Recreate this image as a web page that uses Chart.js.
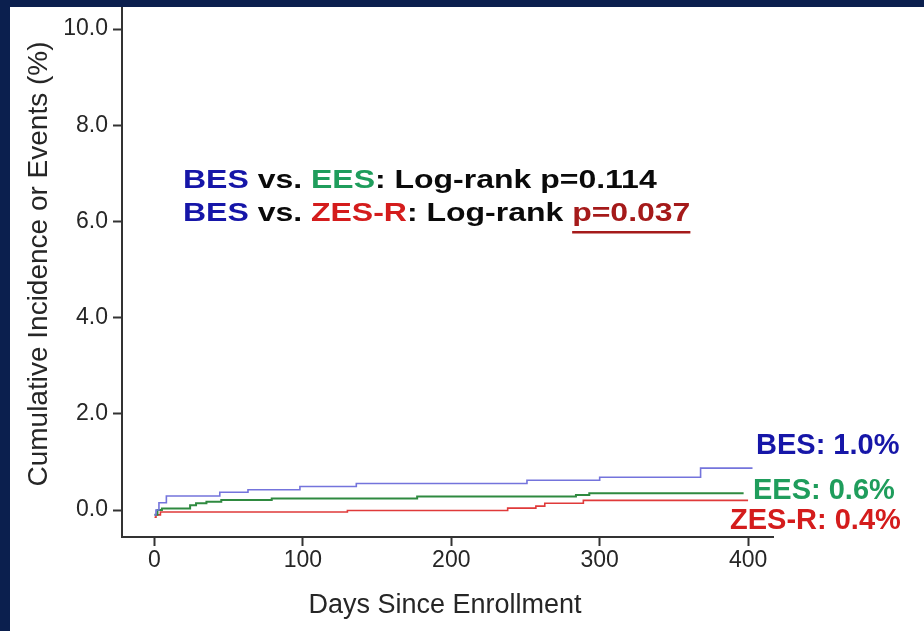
<!DOCTYPE html>
<html>
<head>
<meta charset="utf-8">
<script src="https://cdn.jsdelivr.net/npm/chart.js@4.4.1/dist/chart.umd.min.js"></script>
<style>
  html, body { margin: 0; padding: 0; width: 924px; height: 631px; overflow: hidden; background: #0b1f4e; }
  #panel { position: absolute; left: 10px; top: 7px; width: 914px; height: 624px; background: #ffffff; }
  canvas { display: block; }
</style>
</head>
<body>
<div id="panel"><canvas id="km" width="914" height="624"></canvas></div>
<script>
// Axis ticks
const yTicks = [0, 2, 4, 6, 8, 10];
const xTicks = [0, 100, 200, 300, 400];

// Cumulative incidence (%) by days since enrollment, step points per stent group
const besDays  = [0, 1, 3, 8, 44, 63, 98, 136, 251, 300, 368, 403];
const besRates = [-0.10, 0.00, 0.15, 0.29, 0.37, 0.42, 0.49, 0.55, 0.62, 0.68, 0.87, 0.87];

const eesDays  = [0, 2, 5, 24, 28, 35, 45, 79, 177, 284, 293, 397];
const eesRates = [-0.10, 0.00, 0.03, 0.10, 0.14, 0.17, 0.21, 0.24, 0.28, 0.31, 0.35, 0.35];

const zesDays  = [0, 1, 4, 130, 238, 257, 263, 289, 400];
const zesRates = [-0.15, -0.10, -0.04, -0.01, 0.04, 0.08, 0.14, 0.20, 0.20];

// Group names, colours and the 1-year rates quoted beside the curves
const groups     = ['BES', 'EES', 'ZES-R'];
const lineColors = ['#7474dc', '#2f8a40', '#e03a3a'];
const textColors = ['#1616a8', '#1f9d5c', '#d41c1c'];
const oneYear    = ['1.0%', '0.6%', '0.4%'];

// Log-rank comparison lines
const compareLines = [
  [['BES', 0], [' vs. ', -1], ['EES', 1], [': Log-rank p=0.114', -1]],
  [['BES', 0], [' vs. ', -1], ['ZES-R', 2], [': Log-rank ', -1], ['p=0.037', 3]]
];

const FONT = '"Liberation Sans", Arial, Helvetica, sans-serif';
const INK = '#262626';
const toPoints = (days, rates) => days.map((d, i) => ({ x: d, y: rates[i] }));

const notesPlugin = {
  id: 'notes',
  afterDraw(chart) {
    const ctx = chart.ctx;
    ctx.save();

    // Log-rank comparison text (wide bold face)
    const sx = 1.23;
    const baselines = [181, 214];
    compareLines.forEach((line, li) => {
      ctx.save();
      ctx.translate(173, baselines[li]);
      ctx.scale(sx, 1);
      ctx.font = 'bold 26px ' + FONT;
      ctx.textBaseline = 'alphabetic';
      ctx.textAlign = 'left';
      let x = 0;
      line.forEach(([txt, ci]) => {
        ctx.fillStyle = ci === -1 ? '#0a0a0a' : (ci === 3 ? '#a51a1a' : textColors[ci]);
        ctx.fillText(txt, x, 0);
        const w = ctx.measureText(txt).width;
        if (ci === 3) ctx.fillRect(x, 10, w, 2.5);
        x += w;
      });
      ctx.restore();
    });

    // End-of-curve rate labels
    ctx.font = 'bold 29px ' + FONT;
    ctx.textAlign = 'left';
    ctx.textBaseline = 'alphabetic';
    const endPos = [[746, 447], [743, 492], [720, 522]];
    groups.forEach((g, i) => {
      ctx.fillStyle = textColors[i];
      ctx.fillText(g + ': ' + oneYear[i], endPos[i][0], endPos[i][1]);
    });

    // Axis titles
    ctx.fillStyle = INK;
    ctx.font = '28px ' + FONT;
    ctx.save();
    ctx.translate(37, 257);
    ctx.rotate(-Math.PI / 2);
    ctx.textAlign = 'center';
    ctx.fillText('Cumulative Incidence or Events (%)', 0, 0);
    ctx.restore();

    ctx.font = '27px ' + FONT;
    ctx.textAlign = 'center';
    ctx.fillText('Days Since Enrollment', 435, 606);

    ctx.restore();
  }
};

const series = [
  toPoints(besDays, besRates),
  toPoints(eesDays, eesRates),
  toPoints(zesDays, zesRates)
];

const noPad = s => { s.paddingTop = 0; s.paddingBottom = 0; s.paddingLeft = 0; s.paddingRight = 0; };

new Chart(document.getElementById('km'), {
  type: 'line',
  data: {
    datasets: groups.map((g, i) => ({
      label: g,
      data: series[i],
      borderColor: lineColors[i],
      borderWidth: i === 1 ? 2 : 1.6,
      stepped: 'before',
      pointRadius: 0,
      fill: false,
      tension: 0
    }))
  },
  options: {
    responsive: false,
    animation: false,
    layout: { padding: { top: 1, right: 151, left: 0, bottom: 0 } },
    plugins: { legend: { display: false }, tooltip: { enabled: false }, title: { display: false } },
    scales: {
      x: {
        type: 'linear',
        min: -21.9,
        max: 416.8,
        afterBuildTicks: s => { s.ticks = xTicks.map(v => ({ value: v })); },
        afterFit: s => { s.height = 94; noPad(s); },
        grid: { drawOnChartArea: false, drawTicks: true, tickLength: 9, tickColor: '#333', tickWidth: 2 },
        border: { display: true, color: '#333', width: 2 },
        ticks: { color: INK, padding: 1, font: { family: FONT, size: 23 }, maxRotation: 0, callback: v => String(v) }
      },
      y: {
        type: 'linear',
        min: -0.561,
        max: 10.437,
        afterBuildTicks: s => { s.ticks = yTicks.map(v => ({ value: v })); },
        afterFit: s => { s.width = 112; noPad(s); },
        grid: { drawOnChartArea: false, drawTicks: true, tickLength: 9, tickColor: '#333', tickWidth: 2 },
        border: { display: true, color: '#333', width: 2 },
        ticks: { color: INK, padding: 5, font: { family: FONT, size: 23 }, callback: v => Number(v).toFixed(1) }
      }
    }
  },
  plugins: [notesPlugin]
});
</script>
</body>
</html>
